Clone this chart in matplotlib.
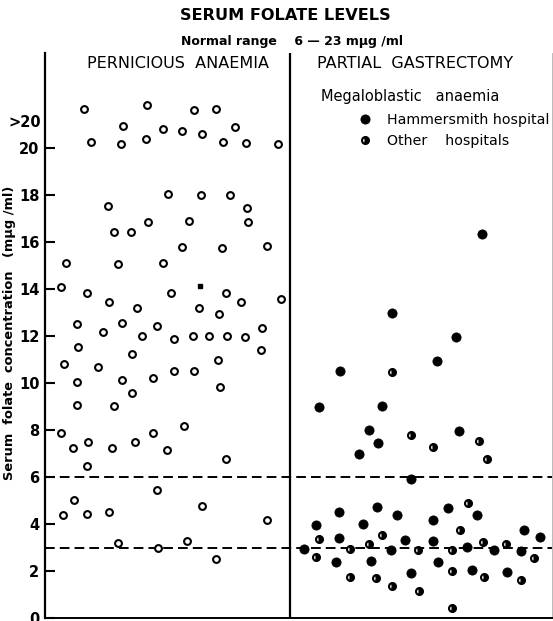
import matplotlib
matplotlib.use("Agg")
import matplotlib.pyplot as plt
from matplotlib.lines import Line2D

W, H = 553, 621

# ---------------- data ----------------
# Pernicious anaemia (open circles); x = horizontal jitter position
pa_x = [39, 102.3, 149.3, 171, 78.3, 117.7, 136.7, 157.3, 190, 45.7, 75.7, 101, 177.7, 201, 232.7,
        123.3, 156, 185, 62.7, 202.3, 102.7, 143.7, 202.7, 69, 86, 136.7, 176.7, 221.7,
        21, 72.7, 117.7, 16, 41.7, 125.7, 181.3, 235.7, 64.3, 196.3, 91.7, 154, 173.7,
        31.7, 77, 112.3, 216.7, 58.3, 97.3, 148.3, 163.7, 182, 199.7, 129.3, 33, 215.7,
        87.3, 172.7, 19.3, 53, 128.7, 149.3, 31.7, 77, 107.7, 174.7, 86.7, 32, 68.7,
        138.7, 16, 108.3, 43, 90, 28.3, 67.3, 121.7, 42.3, 180.7, 112, 28.7, 18.3, 41.7,
        64, 157.3, 221.7, 73, 113, 141.7, 170.7]
pa_y = [21.65, 21.83, 21.62, 21.65, 20.94, 20.81, 20.74, 20.58, 20.91, 20.24, 20.18, 20.38, 20.24, 20.21, 20.16,
        18.03, 18.0, 18.01, 17.53, 17.46, 16.86, 16.88, 16.85, 16.41, 16.41, 15.8, 15.74, 15.83,
        15.09, 15.05, 15.09, 14.07, 13.84, 13.84, 13.82, 13.57, 13.46, 13.45, 13.21, 13.19, 12.95,
        12.52, 12.57, 12.43, 12.33, 12.16, 12.0, 12.0, 12.0, 12.0, 11.97, 11.89, 11.53, 11.4,
        11.23, 10.98, 10.81, 10.69, 10.5, 10.5, 10.04, 10.13, 10.23, 9.83, 9.59, 9.08, 9.02,
        8.18, 7.86, 7.86, 7.5, 7.5, 7.23, 7.23, 7.16, 6.47, 6.78, 5.46, 5.02, 4.37, 4.43,
        4.51, 4.75, 4.16, 3.19, 2.97, 3.29, 2.5]
# stray black square in the original
sq_x = [154.7]
sq_y = [14.13]

# Partial gastrectomy - Hammersmith hospital (filled circles)
hh_x = [436.7, 346.7, 411, 392.3, 295, 274.3, 336.7, 324.3, 332.7, 313.7, 414.3, 366.3,
        293.7, 331.7, 351.7, 270.7, 317.7, 387.7, 402.7, 431.7, 479.3, 494.7, 293.7, 360,
        388.3, 258.7, 346.3, 422.3, 449.3, 476.3, 290.7, 326.3, 392.7, 366.3, 427, 462]
hh_y = [16.34, 12.99, 11.96, 10.95, 10.52, 8.99, 9.02, 7.99, 7.45, 6.97, 7.94, 5.9,
        4.52, 4.72, 4.38, 3.96, 3.99, 4.16, 4.68, 4.4, 3.74, 3.43, 3.4, 3.32,
        3.29, 2.95, 2.91, 3.03, 2.88, 2.86, 2.37, 2.43, 2.37, 1.9, 2.06, 1.94]

# Partial gastrectomy - other hospitals (half-filled circles)
oh_x = [347, 366, 388, 433.7, 441.7, 423.3, 415.3, 273.7, 337.3, 324.3, 438, 461, 305.3,
        372.7, 407.3, 271, 489, 305.3, 331, 407.3, 439.3, 476, 347, 374.3, 407.3]
oh_y = [10.48, 7.77, 7.26, 7.53, 6.75, 4.88, 3.73, 3.37, 3.53, 3.16, 3.22, 3.15, 2.92,
        2.91, 2.91, 2.61, 2.54, 1.73, 1.72, 2.0, 1.73, 1.62, 1.37, 1.15, 0.44]

normal_lines = [6, 3]
yticks = [0, 2, 4, 6, 8, 10, 12, 14, 16, 18, 20]
divider_x = 245
over20_y = 21.1

# ---------------- figure ----------------
fig = plt.figure(figsize=(W / 100, H / 100), dpi=100)
fig.patch.set_facecolor("white")

def fx(px):
    return px / W

def fy(py):
    return 1 - py / H

ax_left, ax_right, ax_top, ax_bot = 45, 551.5, 53, 618
ax = fig.add_axes([fx(ax_left), fy(ax_bot), fx(ax_right - ax_left), fy(ax_top) - fy(ax_bot)])
ax.set_xlim(0, ax_right - ax_left)
ax.set_ylim(0, (ax_bot - ax_top) / 23.5)

ax.spines["top"].set_visible(False)
ax.spines["right"].set_color("#b0b0b0")
ax.spines["right"].set_linewidth(0.6)
ax.spines["left"].set_linewidth(1.6)
ax.spines["bottom"].set_linewidth(1.4)

ax.set_xticks([])
ax.set_yticks(yticks)
ax.set_yticklabels([str(t) for t in yticks])
ax.tick_params(axis="y", direction="in", length=7, width=1.5, pad=4, labelsize=10.5)
for lab in ax.get_yticklabels():
    lab.set_fontweight("bold")

ax.text(-4, over20_y, ">20", transform=ax.transData,
        ha="right", va="center", fontsize=10.5, fontweight="bold")

ax.axvline(divider_x, color="black", lw=1.6)
for v in normal_lines:
    ax.axhline(v, color="black", lw=1.4, linestyle=(0, (5, 2.6)))

ax.plot(pa_x, pa_y, linestyle="none", marker="o", ms=4.9, mew=1.5,
        mfc="white", mec="black", zorder=3)
ax.plot(sq_x, sq_y, linestyle="none", marker="s", ms=3.2, mfc="black", mec="black", zorder=3)
ax.plot(hh_x, hh_y, linestyle="none", marker="o", ms=6.6, mew=0.6,
        mfc="black", mec="black", zorder=3)
ax.plot(oh_x, oh_y, linestyle="none", marker="o", ms=5.0, mew=1.5, fillstyle="right",
        mfc="black", mfcalt="white", mec="black", zorder=3)

ax.set_ylabel("Serum  folate  concentration   (mμg /ml)", fontsize=9.4, fontweight="bold")
ax.yaxis.set_label_coords(-0.058, 0.505)

# ---------------- titles ----------------
fig.text(fx(285), fy(16), "SERUM FOLATE LEVELS", ha="center", va="center",
         fontsize=11.6, fontweight="bold")
fig.text(fx(292), fy(42), "Normal range    6 — 23 mμg /ml", ha="center", va="center",
         fontsize=9, fontweight="bold")
fig.text(fx(178), fy(64), "PERNICIOUS  ANAEMIA", ha="center", va="center", fontsize=11.5)
fig.text(fx(415), fy(64), "PARTIAL  GASTRECTOMY", ha="center", va="center", fontsize=11.5)
fig.text(fx(321), fy(96), "Megaloblastic   anaemia", ha="left", va="center", fontsize=10.5)

handles = [
    Line2D([], [], linestyle="none", marker="o", ms=6.6, mew=0.6, mfc="black", mec="black"),
    Line2D([], [], linestyle="none", marker="o", ms=5.0, mew=1.5, fillstyle="right",
           mfc="black", mfcalt="white", mec="black"),
]
leg = ax.legend(handles, ["Hammersmith hospital", "Other    hospitals"], loc="upper left",
                bbox_to_anchor=(fx(358.4), fy(113)), bbox_transform=fig.transFigure,
                frameon=False, fontsize=10.2, handlelength=1.0, handletextpad=1.0,
                labelspacing=0.5, borderpad=0, borderaxespad=0)

fig.savefig("out.png", dpi=100, facecolor="white")
